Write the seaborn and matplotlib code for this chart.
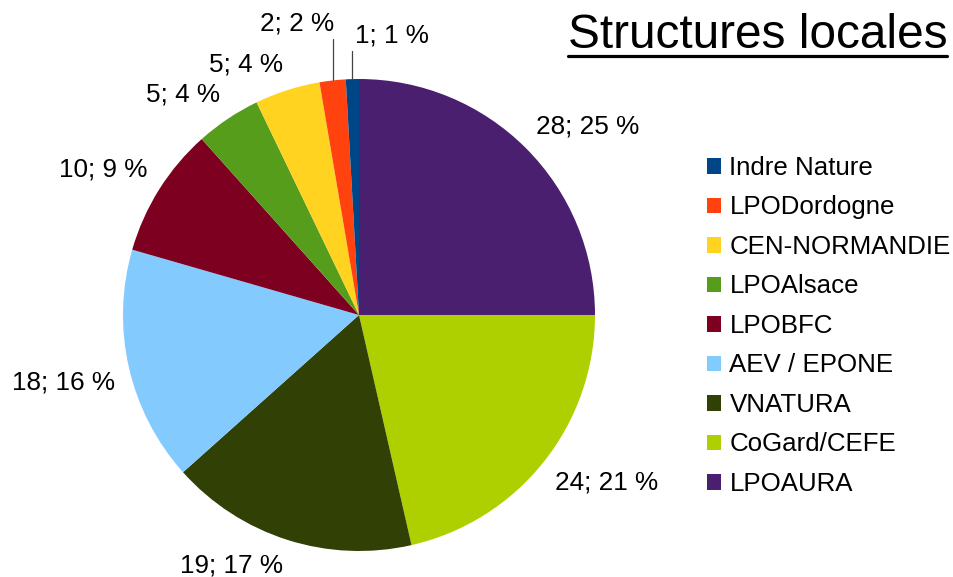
import matplotlib
matplotlib.use('Agg')
import matplotlib.pyplot as plt
from matplotlib.lines import Line2D
import seaborn as sns
import numpy as np

categories = ['LPOAURA', 'CoGard/CEFE', 'VNATURA', 'AEV / EPONE', 'LPOBFC',
              'LPOAlsace', 'CEN-NORMANDIE', 'LPODordogne', 'Indre Nature']
values = [28, 24, 19, 18, 10, 5, 5, 2, 1]
colors = ['#4B1F6F', '#AECF00', '#314004', '#83CAFF', '#7E0021',
          '#579D1C', '#FFD320', '#FF420E', '#004586']
title = 'Structures locales'

sns.set_theme(style='white')
plt.rcParams['font.family'] = ['Liberation Sans', 'DejaVu Sans']
plt.rcParams['text.color'] = '#000000'

W, H = 954, 577
fig = plt.figure(figsize=(W / 100, H / 100), dpi=100)
ax = fig.add_axes([123 / W, 26 / H, 472 / W, 472 / H])
wedges, _ = ax.pie(values, colors=colors, startangle=90, counterclock=False,
                   radius=1, wedgeprops=dict(linewidth=0))
ax.set_xlim(-1, 1)
ax.set_ylim(-1, 1)
ax.set_aspect('equal')
ax.axis('off')

total = sum(values)
lab_fs = 18.8
# leader-line lifts for the two thinnest slices (style, not data)
lift = {len(values) - 2: 1.17, len(values) - 1: 1.12}
for i, (w, v) in enumerate(zip(wedges, values)):
    ang = np.deg2rad((w.theta1 + w.theta2) / 2)
    c, s = np.cos(ang), np.sin(ang)
    txt = f'{v}; {round(100 * v / total)} %'
    if i in lift:
        x0, y0 = c, s
        y1 = lift[i]
        ax.add_line(Line2D([x0, x0], [y0, y1], color='#444444', lw=0.9,
                           clip_on=False))
        ha = 'left' if c > -0.05 else 'right'
        ax.text(x0 + (0.01 if ha == 'left' else 0.005), y1 + 0.015, txt,
                ha=ha, va='bottom', fontsize=lab_fs, color='#000000', clip_on=False)
    else:
        r = 1.06
        ha = 'left' if c > 0 else 'right'
        if s > 0.1:
            va = 'bottom'
        elif s < -0.1:
            va = 'top'
        else:
            va = 'center'
        ax.text(r * c, r * s, txt, ha=ha, va=va,
                fontsize=lab_fs, color='#000000', clip_on=False)

leg = fig.legend(wedges[::-1], categories[::-1], loc='upper left',
                 bbox_to_anchor=(707 / W, 1 - 156 / H), frameon=False,
                 fontsize=18.6, handlelength=0.55, handleheight=0.55,
                 handletextpad=0.32, labelspacing=0.6, borderpad=0,
                 borderaxespad=0, labelcolor='#000000')

t = fig.text(757.5 / W, 1 - 48 / H, title, ha='center', va='baseline',
             fontsize=34.4, color='#000000')
fig.canvas.draw()
bb = t.get_window_extent()
uy = 1 - 55.5 / H
fig.add_artist(Line2D([bb.x0 / W, bb.x1 / W], [uy, uy], color='#000000',
                      lw=2.3, transform=fig.transFigure))

fig.savefig('out.png', dpi=100)
